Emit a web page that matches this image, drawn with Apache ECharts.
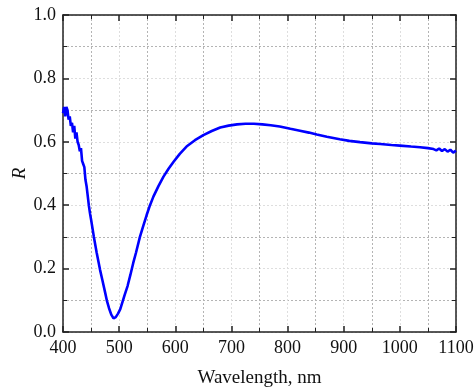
<!DOCTYPE html>
<html>
<head>
<meta charset="utf-8">
<script src="https://cdn.jsdelivr.net/npm/echarts@6/dist/echarts.min.js"></script>
<style>html,body{margin:0;padding:0;background:#fff}#c{width:474px;height:392px}</style>
</head>
<body>
<div id="c"></div>
<script>
var wavelength = [400,402,404,406,408,410,412,414,416,418,420,422,424,426,428,430,432,434,436,438,440,442,444,446,448,450,455,460,466,470,475,478,482,486,490,494,498,502,506,510,515,520,525,530,537,543,549,555,561,570,579,588,597,608,620,635,650,665,680,695,710,725,740,755,770,786,805,822,838,852,870,893,910,929,950,965,985,1000,1020,1036,1050,1060,1065,1070,1075,1080,1085,1090,1095,1100];
var reflectance = [0.69,0.71,0.68,0.71,0.70,0.67,0.68,0.65,0.66,0.63,0.65,0.61,0.63,0.60,0.59,0.57,0.58,0.54,0.53,0.52,0.48,0.46,0.43,0.40,0.375,0.355,0.30,0.25,0.196,0.165,0.125,0.10,0.075,0.055,0.043,0.047,0.058,0.072,0.095,0.118,0.145,0.18,0.217,0.25,0.30,0.335,0.369,0.40,0.427,0.46,0.49,0.515,0.537,0.562,0.585,0.605,0.621,0.634,0.645,0.651,0.655,0.657,0.657,0.655,0.652,0.648,0.641,0.635,0.629,0.623,0.616,0.608,0.603,0.599,0.595,0.593,0.590,0.588,0.585,0.583,0.580,0.577,0.573,0.579,0.571,0.577,0.569,0.575,0.566,0.572];
var xTicks = [400,500,600,700,800,900,1000,1100];
var yTicks = [0.0,0.2,0.4,0.6,0.8,1.0];

var pts = wavelength.map(function(w,i){return [w, reflectance[i]];});
var font = '"Liberation Serif","Times New Roman",serif';
var axisLineStyle = {color:'#222', width:1.5};
var major = {show:true, lineStyle:{color:'#dedede', type:[2,2], width:1}};
var minor = {show:true, lineStyle:{color:'#b4b4b4', type:[2,2], width:1}};

var chart = echarts.init(document.getElementById('c'), null, {renderer:'canvas'});
chart.setOption({
  animation:false,
  backgroundColor:'#fff',
  grid:{left:63, right:18, top:15, bottom:60, containLabel:false, outerBoundsMode:'none'},
  xAxis:[{
    type:'value', min:400, max:1100, interval:100,
    name:'Wavelength, nm', nameLocation:'middle', nameGap:37, nameMoveOverlap:false,
    nameTextStyle:{fontFamily:font, fontSize:19, color:'#111'},
    axisLine:{show:true, onZero:false, lineStyle:axisLineStyle},
    axisTick:{show:true, inside:true, length:6, lineStyle:{color:'#222', width:1.5}},
    minorTick:{show:true, splitNumber:2, length:4, lineStyle:{color:'#222', width:1}},
    axisLabel:{fontFamily:font, fontSize:18, color:'#111', margin:7,
      formatter:function(v){return xTicks.indexOf(v)>=0 ? String(v) : '';}},
    splitLine:major, minorSplitLine:minor
  },{
    type:'value', min:400, max:1100, interval:100, position:'top',
    axisLine:{show:true, onZero:false, lineStyle:axisLineStyle},
    axisTick:{show:true, inside:true, length:6, lineStyle:{color:'#222', width:1.5}},
    minorTick:{show:true, splitNumber:2, length:4, lineStyle:{color:'#222', width:1}},
    axisLabel:{show:false}, splitLine:{show:false}
  }],
  yAxis:[{
    type:'value', min:0, max:1, interval:0.2,
    name:'R', nameLocation:'middle', nameGap:34, nameRotate:90, nameMoveOverlap:false,
    nameTextStyle:{fontFamily:font, fontSize:19, fontStyle:'italic', color:'#111'},
    axisLine:{show:true, onZero:false, lineStyle:axisLineStyle},
    axisTick:{show:true, inside:true, length:6, lineStyle:{color:'#222', width:1.5}},
    minorTick:{show:true, splitNumber:2, length:4, lineStyle:{color:'#222', width:1}},
    axisLabel:{fontFamily:font, fontSize:18, color:'#111', margin:7,
      formatter:function(v){var s=v.toFixed(1); return yTicks.map(function(t){return t.toFixed(1);}).indexOf(s)>=0 ? s : '';}},
    splitLine:major, minorSplitLine:minor
  },{
    type:'value', min:0, max:1, interval:0.2, position:'right',
    axisLine:{show:true, onZero:false, lineStyle:axisLineStyle},
    axisTick:{show:true, inside:true, length:6, lineStyle:{color:'#222', width:1.5}},
    minorTick:{show:true, splitNumber:2, length:4, lineStyle:{color:'#222', width:1}},
    axisLabel:{show:false}, splitLine:{show:false}
  }],
  series:[{
    type:'line', data:pts, xAxisIndex:0, yAxisIndex:0,
    showSymbol:false, smooth:false,
    lineStyle:{color:'#0000ff', width:2.6}
  }]
});
</script>
</body>
</html>
